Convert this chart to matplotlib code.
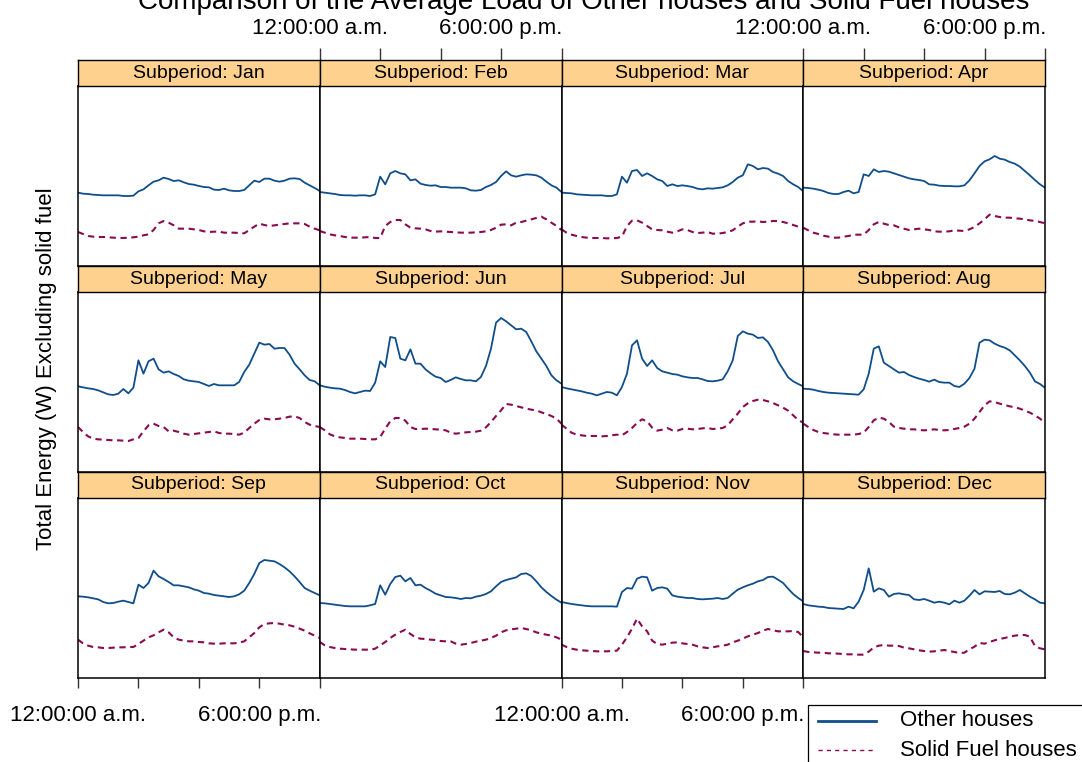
import numpy as np
import matplotlib
matplotlib.use("Agg")
import matplotlib.pyplot as plt
from matplotlib.lines import Line2D
from matplotlib.patches import Rectangle

plt.rcParams['font.family'] = ['Liberation Sans', 'DejaVu Sans']

# ---------------------------------------------------------------- data
# half-hourly profile over one day (hours from midnight)
hours = np.arange(49) * 0.5

months = ['Jan', 'Feb', 'Mar', 'Apr', 'May', 'Jun',
          'Jul', 'Aug', 'Sep', 'Oct', 'Nov', 'Dec']

tick_hours = [0, 6, 12, 18, 24]
tick_labels = ['12:00:00 a.m.', '', '', '6:00:00 p.m.', '']

# average load (W), houses without solid fuel heating
other_jan = [220, 217, 216, 214, 213, 212, 212, 212, 212, 210, 210, 211, 224, 230, 242, 253, 257, 265, 261, 255, 257, 251, 246, 244, 240,
             237, 236, 229, 228, 232, 227, 225, 225, 228, 242, 256, 252, 262, 262, 256, 253, 256, 262, 263, 261, 250, 242, 234, 225]
other_feb = [222, 220, 218, 216, 213, 212, 212, 211, 212, 212, 210, 215, 268, 245, 278, 285, 278, 275, 257, 260, 247, 243, 241, 242, 237,
             237, 235, 235, 235, 233, 227, 226, 228, 237, 243, 252, 270, 284, 272, 268, 272, 275, 274, 272, 265, 253, 242, 235, 222]
other_mar = [220, 219, 218, 215, 214, 213, 212, 212, 212, 210, 210, 215, 268, 250, 285, 288, 270, 278, 270, 260, 255, 240, 245, 240, 242,
             240, 237, 232, 230, 233, 232, 234, 236, 242, 252, 265, 272, 305, 300, 290, 294, 292, 282, 277, 270, 255, 245, 237, 224]
other_apr = [235, 234, 232, 229, 225, 219, 216, 216, 222, 226, 218, 222, 275, 270, 290, 282, 285, 283, 278, 273, 268, 263, 260, 258, 255,
             245, 244, 241, 240, 240, 239, 239, 242, 257, 278, 300, 314, 320, 330, 322, 319, 312, 307, 298, 285, 272, 258, 245, 235]
other_may = [257, 254, 251, 249, 245, 239, 233, 231, 235, 249, 236, 253, 335, 295, 332, 340, 308, 298, 302, 294, 288, 278, 274, 272, 270,
             264, 258, 264, 260, 260, 260, 260, 270, 300, 322, 355, 388, 382, 384, 370, 372, 372, 352, 325, 308, 290, 276, 272, 260]
other_jun = [260, 256, 253, 251, 250, 246, 240, 236, 240, 244, 243, 268, 332, 315, 405, 402, 340, 335, 368, 325, 325, 308, 296, 286, 282,
             270, 276, 284, 279, 275, 275, 272, 285, 318, 370, 448, 462, 452, 440, 428, 430, 420, 392, 362, 340, 318, 290, 275, 265]
other_jul = [255, 251, 248, 245, 242, 238, 235, 230, 235, 240, 238, 230, 255, 295, 380, 395, 340, 318, 335, 312, 302, 298, 294, 292, 287,
             284, 282, 282, 278, 273, 272, 274, 278, 302, 335, 408, 422, 415, 412, 402, 404, 390, 365, 332, 308, 284, 272, 264, 257]
other_aug = [250, 249, 247, 243, 240, 238, 237, 236, 235, 234, 233, 232, 248, 295, 370, 377, 328, 318, 308, 298, 300, 291, 285, 280, 276,
             271, 277, 270, 268, 268, 258, 255, 265, 282, 310, 388, 397, 395, 385, 378, 373, 365, 350, 335, 318, 298, 272, 264, 253]
other_sep = [245, 244, 242, 239, 236, 228, 224, 225, 229, 232, 228, 224, 280, 270, 285, 322, 305, 297, 288, 278, 278, 275, 272, 266, 262,
             255, 253, 249, 247, 245, 243, 245, 251, 262, 285, 312, 345, 354, 352, 350, 342, 332, 320, 305, 288, 270, 262, 255, 248]
other_oct = [225, 224, 222, 220, 218, 216, 215, 215, 215, 215, 218, 222, 278, 250, 282, 303, 307, 290, 300, 278, 280, 270, 262, 253, 248,
             243, 242, 240, 237, 240, 239, 244, 247, 252, 260, 275, 288, 294, 298, 302, 312, 314, 306, 290, 272, 258, 246, 235, 226]
other_nov = [228, 225, 222, 220, 218, 216, 215, 215, 215, 215, 215, 214, 258, 270, 268, 298, 304, 302, 262, 270, 272, 268, 248, 244, 242,
             240, 240, 237, 236, 237, 238, 240, 237, 240, 253, 265, 272, 278, 283, 290, 294, 303, 304, 295, 285, 268, 252, 240, 230]
other_dec = [222, 218, 216, 214, 213, 210, 209, 208, 207, 214, 209, 229, 264, 329, 259, 269, 264, 244, 252, 254, 251, 249, 236, 234, 237,
             232, 226, 229, 226, 221, 232, 226, 232, 247, 264, 251, 260, 259, 258, 261, 252, 251, 256, 264, 254, 244, 236, 226, 224]

# average load (W) excluding solid fuel, houses with solid fuel heating
solid_jan = [102, 96, 90, 88, 87, 87, 86, 85, 84, 84, 85, 86, 88, 92, 95, 108, 128, 135, 130, 122, 112, 112, 112, 110, 108,
             104, 102, 103, 103, 100, 100, 100, 99, 98, 108, 118, 127, 123, 120, 122, 124, 126, 128, 128, 128, 126, 118, 112, 107]
solid_feb = [105, 100, 95, 92, 90, 87, 85, 85, 85, 86, 87, 84, 84, 120, 132, 138, 138, 125, 115, 113, 112, 110, 105, 103, 104,
             103, 102, 101, 100, 100, 100, 101, 102, 104, 108, 115, 124, 125, 122, 130, 132, 136, 140, 144, 148, 140, 130, 120, 108]
solid_mar = [110, 100, 94, 90, 87, 85, 84, 84, 84, 83, 83, 84, 88, 120, 136, 137, 130, 120, 110, 108, 107, 103, 100, 104, 110,
             108, 102, 99, 100, 102, 97, 97, 99, 102, 107, 118, 128, 133, 133, 134, 132, 133, 135, 135, 132, 128, 123, 118, 112]
solid_apr = [115, 107, 100, 96, 91, 88, 85, 85, 88, 90, 94, 94, 94, 108, 125, 132, 127, 123, 122, 116, 112, 108, 110, 112, 110,
             108, 104, 103, 103, 104, 107, 106, 105, 110, 117, 128, 140, 154, 150, 147, 145, 145, 143, 142, 140, 137, 135, 132, 128]
solid_may = [135, 120, 107, 100, 98, 97, 96, 95, 95, 94, 93, 98, 102, 122, 140, 145, 138, 135, 122, 124, 120, 115, 112, 114, 116,
             118, 120, 122, 117, 115, 115, 114, 112, 118, 132, 145, 156, 160, 158, 158, 160, 162, 166, 167, 162, 150, 142, 138, 135]
solid_jun = [135, 125, 113, 107, 104, 102, 100, 100, 100, 99, 98, 98, 105, 130, 152, 162, 162, 154, 135, 129, 129, 130, 129, 128, 127,
             125, 118, 115, 117, 119, 120, 121, 124, 134, 150, 168, 185, 204, 202, 198, 194, 190, 187, 185, 179, 174, 168, 160, 145]
solid_jul = [142, 130, 118, 112, 110, 108, 108, 108, 107, 108, 110, 112, 110, 120, 132, 147, 158, 152, 133, 124, 127, 132, 125, 124, 129,
             130, 128, 129, 131, 132, 129, 130, 132, 140, 158, 175, 195, 206, 213, 217, 216, 212, 207, 200, 193, 184, 170, 156, 148]
solid_aug = [145, 135, 126, 120, 117, 115, 113, 112, 112, 112, 112, 114, 118, 135, 155, 163, 160, 150, 136, 132, 130, 128, 128, 126, 125,
             126, 128, 126, 125, 126, 129, 132, 136, 145, 160, 180, 200, 212, 210, 205, 201, 197, 194, 190, 184, 178, 170, 160, 148]
solid_sep = [115, 104, 97, 93, 92, 90, 90, 91, 92, 92, 93, 93, 102, 112, 122, 128, 137, 145, 137, 122, 115, 112, 110, 110, 108,
             107, 104, 103, 103, 104, 104, 104, 106, 110, 122, 135, 152, 162, 164, 165, 163, 160, 158, 154, 148, 142, 134, 127, 120]
solid_oct = [108, 98, 93, 90, 88, 87, 86, 85, 85, 85, 85, 88, 98, 108, 120, 130, 138, 145, 132, 122, 118, 117, 115, 114, 111,
             110, 110, 103, 100, 102, 105, 109, 112, 115, 120, 127, 137, 143, 146, 148, 150, 147, 143, 137, 133, 130, 127, 122, 115]
solid_nov = [100, 93, 88, 85, 83, 82, 81, 80, 80, 80, 81, 82, 100, 122, 148, 178, 155, 140, 112, 102, 100, 103, 106, 107, 104,
             102, 100, 95, 92, 90, 92, 95, 97, 100, 107, 112, 118, 125, 130, 135, 142, 147, 143, 140, 140, 140, 141, 138, 122]
solid_dec = [81, 78, 77, 76, 76, 74, 74, 73, 72, 71, 71, 70, 70, 79, 92, 97, 99, 97, 97, 96, 91, 89, 86, 83, 81,
             79, 80, 82, 84, 81, 78, 75, 76, 86, 94, 105, 103, 108, 113, 117, 120, 124, 127, 129, 129, 124, 96, 89, 86]

other_series = [other_jan, other_feb, other_mar, other_apr, other_may, other_jun,
                other_jul, other_aug, other_sep, other_oct, other_nov, other_dec]
solid_series = [solid_jan, solid_feb, solid_mar, solid_apr, solid_may, solid_jun,
                solid_jul, solid_aug, solid_sep, solid_oct, solid_nov, solid_dec]

# ---------------------------------------------------------------- style
BLUE = '#104E8B'
MAROON = '#8B0A50'
STRIP = '#FFD18F'
TICK = '#333333'

W, H = 1082, 762
fig = plt.figure(figsize=(W / 100, H / 100), dpi=100)
fig.patch.set_facecolor('white')


def fx(px):
    return px / W


def fy(py):
    return 1 - py / H


col_edges = [78, 319.75, 561.5, 803.25, 1045]
strip_h = 26
panel_h = 180
row_pitch = 206
first_strip_top = 60

for i, month in enumerate(months):
    r, c = divmod(i, 4)
    x0, x1 = col_edges[c], col_edges[c + 1]
    strip_top = first_strip_top + r * row_pitch
    panel_top = strip_top + strip_h

    ax = fig.add_axes([fx(x0), fy(panel_top + panel_h), fx(x1 - x0), panel_h / H])
    ax.plot(hours, other_series[i], color=BLUE, lw=1.3, solid_joinstyle='round')
    ax.plot(hours, solid_series[i], color=MAROON, lw=1.5, dashes=(3, 2.2))
    ax.set_xlim(0, 24)
    ax.set_ylim(0, 540)
    ax.set_yticks([])
    for sp in ax.spines.values():
        sp.set_color('black')
        sp.set_linewidth(1.1)

    sax = fig.add_axes([fx(x0), fy(panel_top), fx(x1 - x0), strip_h / H])
    sax.set_facecolor(STRIP)
    sax.set_xlim(0, 24)
    sax.set_ylim(0, 1)
    sax.set_yticks([])
    for sp in sax.spines.values():
        sp.set_color('black')
        sp.set_linewidth(1.0)
    sax.text(12, 0.5, f'Subperiod: {month}', ha='center', va='center',
             fontsize=14, color='black')

    # alternating time axis: bottom under columns 1 & 3, top over columns 2 & 4
    if r == 2 and c in (0, 2):
        ax.set_xticks(tick_hours)
        ax.set_xticklabels(tick_labels)
        ax.tick_params(axis='x', direction='out', length=7.5, width=1,
                       color=TICK, pad=12, labelsize=16)
    else:
        ax.set_xticks([])

    if r == 0 and c in (1, 3):
        sax.xaxis.tick_top()
        sax.set_xticks(tick_hours)
        sax.set_xticklabels(tick_labels)
        sax.tick_params(axis='x', direction='out', length=9, width=1,
                        color=TICK, pad=6, labelsize=16)
    else:
        sax.set_xticks([])

# titles
fig.text(fx(138), fy(9), 'Comparison of the Average Load of Other houses and Solid Fuel houses',
         ha='left', va='baseline', fontsize=20)
fig.text(fx(47), fy(369), 'Total Energy (W) Excluding solid fuel', rotation=90,
         ha='center', va='center', fontsize=16)

# key
fig.add_artist(Rectangle((fx(808), fy(790)), fx(300), 85 / H, transform=fig.transFigure,
                         facecolor='white', edgecolor='black', lw=0.9))
fig.add_artist(Line2D([fx(818), fx(876)], [fy(721), fy(721)], transform=fig.transFigure,
                      color=BLUE, lw=2))
fig.add_artist(Line2D([fx(818), fx(876)], [fy(750), fy(750)], transform=fig.transFigure,
                      color=MAROON, lw=1.0, dashes=(3, 3)))
fig.text(fx(900), fy(721), 'Other houses', ha='left', va='center', fontsize=16)
fig.text(fx(900), fy(750), 'Solid Fuel houses', ha='left', va='center', fontsize=16)

fig.savefig('out.png', dpi=100)
